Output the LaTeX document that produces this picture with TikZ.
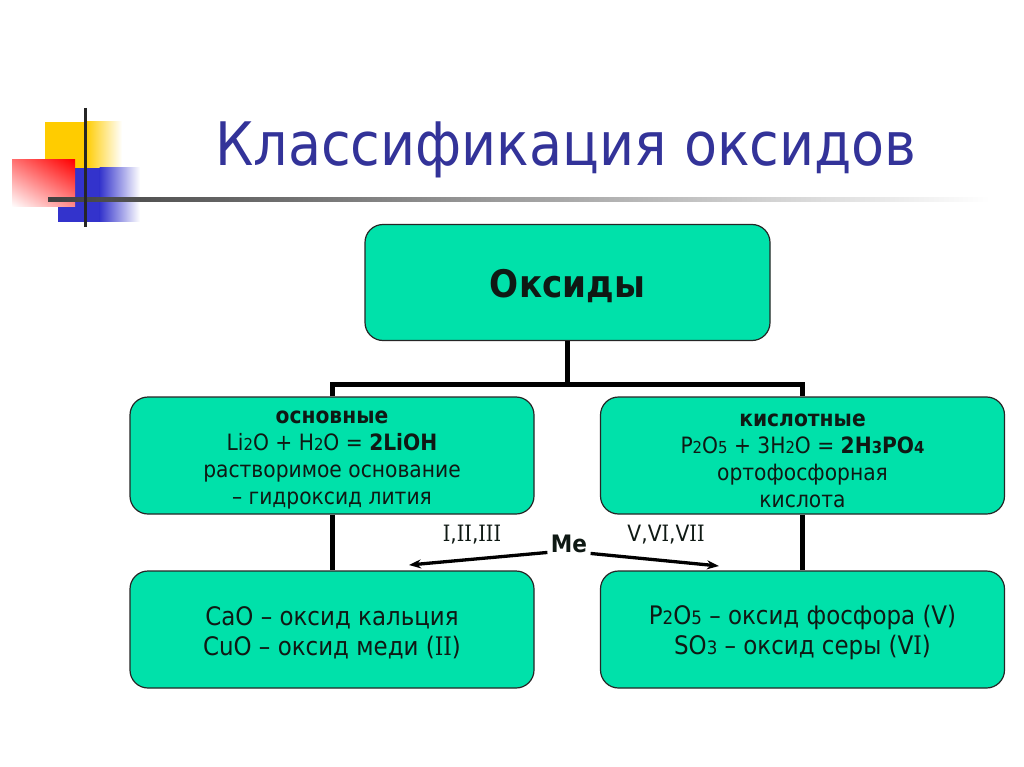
\documentclass[tikz,border=0pt]{standalone}
\usepackage{fontspec}
\setmainfont[FakeStretch=0.9]{DejaVu Sans}
\newfontfamily\romfont[FakeStretch=0.85]{DejaVu Serif}
\usetikzlibrary{arrows.meta,shadings}
\definecolor{boxgreen}{RGB}{0,225,170}
\definecolor{titleblue}{RGB}{51,51,153}
\definecolor{txt}{RGB}{15,25,20}
\definecolor{decoyellow}{RGB}{255,204,0}
\definecolor{decoblue}{RGB}{51,51,204}
\newcommand{\smdig}[1]{{\fontsize{16.5}{16.5}\selectfont #1}}
\newcommand{\lgdig}[1]{{\fontsize{18.5}{18.5}\selectfont #1}}
\newcommand{\RI}{{\romfont I}}
\tikzset{
  obox/.style={draw=black!85, line width=1.2pt, fill=boxgreen, rounded corners=18pt,
    minimum width=404pt, minimum height=117pt},
  midtext/.style={font=\fontsize{22.5}{27}\selectfont, align=center, text=txt},
  lowtext/.style={font=\fontsize{25.5}{30}\selectfont, align=center, text=txt},
  conn/.style={line width=5pt, black},
  arr/.style={line width=3.3pt, black, -{Stealth[length=12pt,width=9pt]}},
  roman/.style={font=\fontsize{22.5}{22.5}\selectfont, text=txt}
}
\begin{document}
\begin{tikzpicture}[x=1pt,y=-1pt]
\useasboundingbox (0,0) rectangle (1024,767);
\fill[white] (0,0) rectangle (1024,767);
% decoration
\fill[decoyellow] (45,122) rectangle (86,168);
\shade[left color=decoyellow, right color=white] (85.5,122) rectangle (122,168);
\fill[decoblue] (58,168) rectangle (100,222);
\shade[left color=decoblue, right color=white] (99.5,168) rectangle (140,222);
\shade[upper left=red!55, upper right=red, lower left=white, lower right=red!45] (12,160) rectangle (75,207);
\shade[left color=black!75, right color=white] (48,197.5) rectangle (990,201.5);
\draw[line width=3pt, black!85] (85,108) -- (85,227);
% title
\node[text=titleblue, font=\fontsize{60}{60}\selectfont] (title) at (566,150) {Классификация оксидов};
% boxes
\node[obox, minimum width=405pt, minimum height=116pt] (top) at (567.5,282.5) {};
\node[font=\bfseries\fontsize{38}{40}\selectfont, text=txt] (topt) at ([yshift=-4pt]top.center) {Оксиды};
\node[obox] (lm) at (332,455.5) {};
\node[midtext] (lmt) at ([yshift=-5pt]lm.center) {\textbf{основные}\\Li\smdig{2}O + H\smdig{2}O = \textbf{2LiOH}\\растворимое основание\\– гидроксид лития};
\node[obox] (rm) at (802.5,455.5) {};
\node[midtext] (rmt) at ([yshift=-5pt]rm.center) {\textbf{кислотные}\\P\smdig{2}O\smdig{5} + 3H\smdig{2}O = \textbf{2H\smdig{3}PO\smdig{4}}\\ортофосфорная\\кислота};
\node[obox] (lb) at (332,629.5) {};
\node[lowtext] (lbt) at ([yshift=-3pt]lb.center) {CaO – оксид кальция\\CuO – оксид меди (\RI\RI)};
\node[obox] (rb) at (802.5,629.5) {};
\node[lowtext] (rbt) at ([yshift=-3pt]rb.center) {P\lgdig{2}O\lgdig{5} – оксид фосфора (V)\\SO\lgdig{3} – оксид серы (V\RI)};
% connectors
\coordinate (j) at (567.5,384);
\draw[conn] (top.south) -- (j);
\draw[conn] (lm.north) |- (j) -| (rm.north);
\draw[conn] (lm.south) -- (lb.north);
\draw[conn] (rm.south) -- (rb.north);
% Me arrows
\node[font=\bfseries\fontsize{24}{24}\selectfont, text=txt] (me) at (569,544) {Me};
\coordinate (la) at (409,565);
\coordinate (ra) at (719,566);
\draw[arr] (me.south west) ++(0,-4) coordinate (ls) (ls) -- (la);
\draw[arr] (me.south east) ++(0,-3) coordinate (rs) (rs) -- (ra);
\node[roman] (lab1) at (472,535) {\RI,\RI\RI,\RI\RI\RI};
\node[roman] (lab2) at (666,535) {V,V\RI,V\RI\RI};
\end{tikzpicture}
\end{document}
